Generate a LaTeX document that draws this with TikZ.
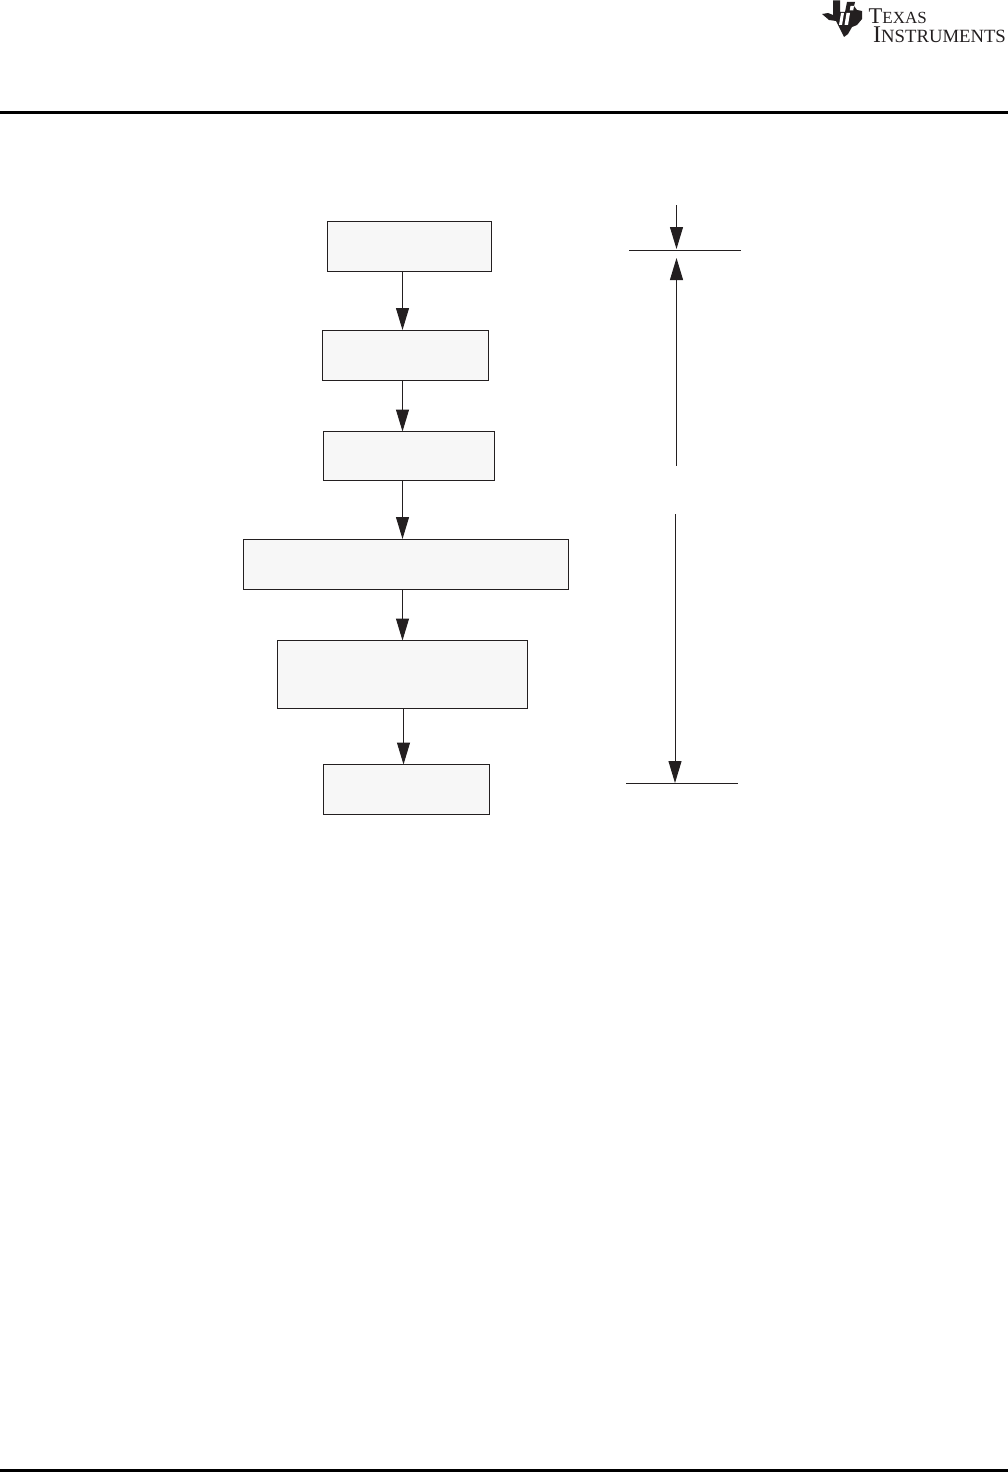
\documentclass[tikz,border=0pt]{standalone}
\usepackage{fontspec}
\setmainfont{Liberation Serif}
\usetikzlibrary{arrows.meta}
\definecolor{ink}{HTML}{231F20}
\definecolor{boxfill}{HTML}{F7F7F7}
\tikzset{
  flowbox/.style={draw=ink,fill=boxfill,line width=1pt,inner sep=0pt,outer sep=0pt,anchor=north west},
  flowarrow/.style={draw=ink,line width=1pt,-{Triangle[length=22pt,width=13pt,color=ink]},shorten >=0pt},
  tickline/.style={draw=ink,line width=1pt},
  rulebar/.style={draw=black,line width=3pt}
}
\newcommand{\logotext}[2]{{\fontsize{#1}{#1}\selectfont #2}}
\begin{document}
\begin{tikzpicture}[x=1pt,y=-1pt]
\useasboundingbox (0,0) rectangle (1008,1472);
\fill[white] (0,0) rectangle (1008,1472);
% header and footer rules
\coordinate (hl) at (0,112); \coordinate (hr) at (1008,112);
\coordinate (fl) at (0,1470.5); \coordinate (fr) at (1008,1470.5);
\draw[rulebar] (hl) -- (hr);
\draw[rulebar] (fl) -- (fr);
% logo
\fill[ink] (833,0.5) -- (840,0.5) -- (840,12) -- (845,12) -- (847,2) -- (855,2) -- (854,6) -- (857,10) -- (862,11) -- (862,19) -- (857,25) -- (852,27) -- (848,34) -- (844,37) -- (840,29) -- (836,21) -- (829,20) -- (822,14) -- (828,13) -- (833,15) -- cycle;
\fill[white] (846.5,13) -- (850,13) -- (848,25) -- (844.5,25) -- cycle;
\fill[white] (850.5,6) -- (854,6) -- (853.2,10.5) -- (849.7,10.5) -- cycle;
\fill[white] (841,13) -- (844,13) -- (842,25) -- (839,25) -- cycle;
\node[anchor=base west,inner sep=0pt,text=ink] (logoA) at (868.5,24) {\logotext{22.5}{T}\logotext{17}{EXAS}};
\node[anchor=base west,inner sep=0pt,text=ink] (logoB) at (873,42.5) {\logotext{24}{I}\logotext{18.7}{NSTRUMENTS}};
% flow boxes
\node[flowbox,minimum width=164pt,minimum height=50pt] (b1) at (327.5,221.5) {};
\node[flowbox,minimum width=166pt,minimum height=50pt] (b2) at (322.5,330) {};
\node[flowbox,minimum width=171pt,minimum height=49pt] (b3) at (323.5,431.5) {};
\node[flowbox,minimum width=325pt,minimum height=50pt] (b4) at (243.5,539) {};
\node[flowbox,minimum width=250pt,minimum height=68pt] (b5) at (277.5,640.5) {};
\node[flowbox,minimum width=166pt,minimum height=50pt] (b6) at (323.5,764.5) {};
% arrow columns
\coordinate (ca) at (402.5,0);
\coordinate (cb) at (403.5,0);
\draw[flowarrow] (b1.south -| ca) -- (b2.north -| ca);
\draw[flowarrow] (b2.south -| ca) -- (b3.north -| ca);
\draw[flowarrow] (b3.south -| ca) -- (b4.north -| ca);
\draw[flowarrow] (b4.south -| ca) -- (b5.north -| ca);
\draw[flowarrow] (b5.south -| cb) -- (b6.north -| cb);
% right dimension marks
\coordinate (t1) at (629,250.5); \coordinate (t2) at (741,250.5);
\coordinate (u1) at (626,783.5); \coordinate (u2) at (738,783.5);
\coordinate (a1) at (676.5,205); \coordinate (a2) at (676.5,249);
\coordinate (a3) at (676.5,465.5); \coordinate (a4) at (676.5,258);
\coordinate (a5) at (675,514); \coordinate (a6) at (675,783);
\draw[tickline] (t1) -- (t2);
\draw[tickline] (u1) -- (u2);
\draw[flowarrow] (a1) -- (a2);
\draw[flowarrow] (a3) -- (a4);
\draw[flowarrow] (a5) -- (a6);
\end{tikzpicture}
\end{document}
